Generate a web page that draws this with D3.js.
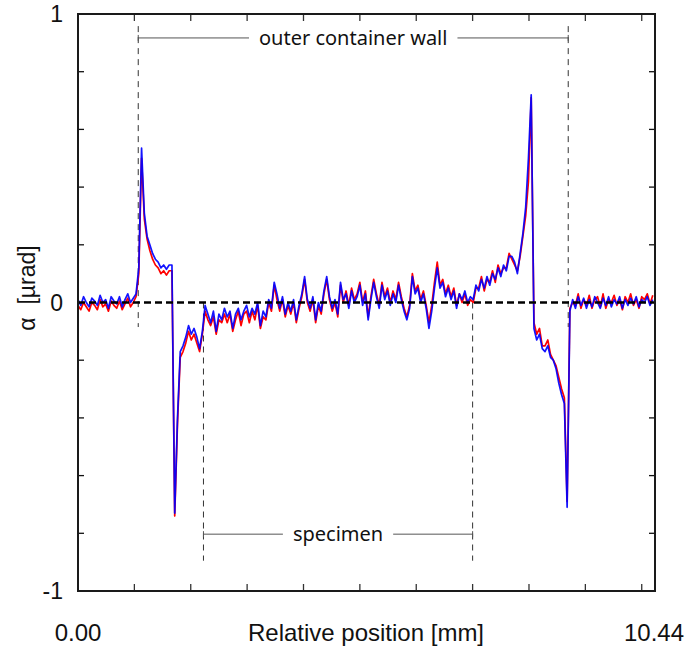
<!DOCTYPE html>
<html>
<head>
<meta charset="utf-8">
<script src="https://cdn.jsdelivr.net/npm/d3@7"></script>
<style>
  body { margin: 0; background: #fff; }
  svg { display: block; }
</style>
</head>
<body>
<div id="chart"></div>
<script>
// samples every 0.05 mm, angle in µrad
var step = 0.05;
var redSeries = [
  -0.01,-0.025,0.0,-0.015,-0.03,0.0,-0.01,-0.025,0.01,-0.015,
  -0.005,-0.03,0.005,-0.01,-0.02,0.005,-0.025,-0.005,0.015,-0.015,
  0.0,0.02,0.10,0.50,0.29,0.22,0.18,0.15,0.13,0.12,
  0.10,0.11,0.095,0.11,0.11,-0.74,-0.42,-0.19,-0.17,-0.14,
  -0.10,-0.13,-0.11,-0.14,-0.17,-0.11,-0.03,-0.06,-0.08,-0.05,
  -0.11,-0.06,-0.07,-0.04,-0.07,-0.04,-0.10,-0.06,-0.03,-0.08,
  -0.04,-0.03,-0.07,-0.03,-0.06,-0.01,-0.09,-0.05,-0.06,0.0,
  -0.03,0.06,0.01,-0.03,0.01,-0.05,-0.01,-0.04,0.0,-0.07,
  -0.02,0.02,0.08,0.0,-0.03,0.01,-0.07,-0.01,-0.04,0.03,
  0.08,0.01,-0.03,0.0,-0.05,0.06,0.0,0.04,-0.01,0.05,
  0.01,0.03,0.07,0.0,0.04,-0.05,0.02,0.08,0.03,-0.01,
  0.07,0.02,0.05,0.0,0.04,0.01,0.07,0.02,-0.02,-0.05,
  -0.01,0.10,0.04,0.06,0.01,0.04,-0.01,-0.07,-0.01,0.07,
  0.14,0.06,0.08,0.03,0.06,0.02,0.05,-0.01,0.03,0.0,
  0.03,-0.01,0.01,0.0,0.05,0.05,0.09,0.04,0.08,0.07,
  0.11,0.07,0.13,0.10,0.12,0.12,0.17,0.15,0.13,0.11,
  0.16,0.23,0.30,0.42,0.71,-0.07,-0.11,-0.09,-0.15,-0.15,
  -0.13,-0.18,-0.20,-0.22,-0.26,-0.30,-0.33,-0.69,-0.02,0.0,
  -0.01,0.03,-0.02,0.01,-0.01,0.025,-0.02,0.01,0.02,-0.015,
  0.03,-0.02,0.01,0.0,0.025,-0.01,0.01,-0.025,0.02,0.0,
  0.03,-0.01,0.01,-0.02,0.02,0.01,0.03,-0.005,0.025
];
var blueSeries = [
  0.01,-0.01,0.02,0.0,-0.015,0.015,0.005,-0.01,0.025,0.0,
  0.01,-0.02,0.02,0.005,-0.005,0.02,-0.015,0.01,0.03,0.0,
  0.015,0.03,0.12,0.535,0.31,0.23,0.20,0.17,0.15,0.14,
  0.12,0.13,0.115,0.13,0.13,-0.73,-0.40,-0.17,-0.15,-0.12,
  -0.08,-0.11,-0.09,-0.12,-0.16,-0.10,-0.01,-0.04,-0.07,-0.03,
  -0.10,-0.04,-0.06,-0.02,-0.05,-0.03,-0.09,-0.04,-0.02,-0.06,
  -0.03,-0.01,-0.05,-0.02,-0.04,0.0,-0.08,-0.03,-0.05,0.01,
  -0.02,0.07,0.03,-0.02,0.02,-0.04,0.0,-0.03,0.01,-0.06,
  -0.01,0.03,0.09,0.01,-0.02,0.02,-0.06,0.0,-0.03,0.04,
  0.09,0.02,-0.02,0.01,-0.04,0.07,0.01,0.03,-0.02,0.04,
  0.0,0.02,0.06,-0.01,0.03,-0.06,0.01,0.07,0.02,-0.02,
  0.06,0.01,0.04,-0.01,0.03,0.0,0.06,0.01,-0.03,-0.06,
  -0.02,0.09,0.03,0.05,0.0,0.03,-0.02,-0.09,-0.03,0.05,
  0.12,0.05,0.07,0.02,0.05,0.01,0.04,-0.02,0.03,0.01,
  0.04,0.0,0.02,0.01,0.06,0.04,0.08,0.05,0.09,0.06,
  0.10,0.08,0.12,0.09,0.13,0.11,0.16,0.16,0.14,0.10,
  0.17,0.24,0.33,0.50,0.72,-0.09,-0.13,-0.11,-0.16,-0.17,
  -0.15,-0.19,-0.20,-0.23,-0.28,-0.32,-0.35,-0.71,-0.03,0.01,
  -0.02,0.02,-0.01,0.015,-0.02,0.01,-0.015,0.02,0.0,-0.02,
  0.015,-0.01,0.02,-0.015,0.01,-0.005,0.02,-0.02,0.01,-0.01,
  0.015,-0.005,0.02,-0.015,0.01,0.0,0.02,-0.01,0.01
];
var xTicks = [1.02, 2.04, 3.06, 4.08, 5.10, 6.12, 7.14, 8.16, 9.18, 10.20];
var yTicks = [-0.8, -0.6, -0.4, -0.2, 0.2, 0.4, 0.6, 0.8];
var yLabels = [1, 0, -1];
var xEnds = [0, 10.44];
var xEndLabels = ["0.00", "10.44"];
var wallPos = [1.09, 8.87];
var specimenPos = [2.27, 7.14];

var W = 686, H = 647;
var margin = {left: 78, top: 14, right: 31, bottom: 56};
var width = W - margin.left - margin.right, height = H - margin.top - margin.bottom;

var svg = d3.select("#chart").append("svg")
  .attr("width", W).attr("height", H);
var g = svg.append("g").attr("transform", "translate(" + margin.left + "," + margin.top + ")");

var x = d3.scaleLinear().domain([0, 10.44]).range([0, width]);
var y = d3.scaleLinear().domain([-1, 1]).range([height, 0]);

var tickFont = "'Liberation Sans', Arial, sans-serif";
var noteFont = "'Noto Sans', 'Open Sans', sans-serif";

// annotation lines (under the data)
function dashed(x0, v0, x1, v1){
  g.append("line")
    .attr("x1", x(x0)).attr("y1", y(v0)).attr("x2", x(x1)).attr("y2", y(v1))
    .attr("stroke", "#333").attr("stroke-width", 1).attr("stroke-dasharray", "6,5");
}
wallPos.forEach(function(p){ dashed(p, 0.958, p, -0.085); });
specimenPos.forEach(function(p){ dashed(p, 0.0, p, -0.895); });

function bracket(pos, v, label){
  var cx = (x(pos[0]) + x(pos[1])) / 2, cy = y(v);
  var t = g.append("text")
    .attr("x", cx).attr("y", cy).attr("dy", "0.33em")
    .attr("text-anchor", "middle")
    .style("font-family", noteFont).style("font-size", "20px").style("fill", "#111")
    .text(label);
  var tw = t.node().getComputedTextLength();
  var segs = [[x(pos[0]), cx - tw / 2 - 10], [cx + tw / 2 + 10, x(pos[1])]];
  segs.forEach(function(s){
    g.append("line").attr("x1", s[0]).attr("x2", s[1]).attr("y1", cy).attr("y2", cy)
      .attr("stroke", "#555").attr("stroke-width", 1);
  });
  pos.forEach(function(p){
    g.append("line").attr("x1", x(p)).attr("x2", x(p)).attr("y1", cy - 3).attr("y2", cy + 3)
      .attr("stroke", "#555").attr("stroke-width", 1);
  });
}
bracket(wallPos, 0.917, "outer container wall");
bracket(specimenPos, -0.803, "specimen");

// signals
var line = d3.line()
  .x(function(d, i){ return x(i * step); })
  .y(function(d){ return y(d); });

g.append("path").datum(redSeries)
  .attr("d", line).attr("fill", "none")
  .attr("stroke", "#ff0000").attr("stroke-width", 1.7).attr("stroke-linejoin", "round");
g.append("path").datum(blueSeries)
  .attr("d", line).attr("fill", "none")
  .attr("stroke", "#0000ff").attr("stroke-width", 1.7).attr("stroke-linejoin", "round")
  .attr("opacity", 0.92);

// zero line
g.append("line")
  .attr("x1", 0).attr("x2", width).attr("y1", y(0)).attr("y2", y(0))
  .attr("stroke", "#000").attr("stroke-width", 2.5).attr("stroke-dasharray", "7,4");

// ticks, inward on all four sides
g.selectAll(".xt-b").data(xTicks).enter().append("line")
  .attr("x1", function(d){ return x(d); }).attr("x2", function(d){ return x(d); })
  .attr("y1", height).attr("y2", height - 7)
  .attr("stroke", "#333").attr("stroke-width", 1.3);
g.selectAll(".xt-t").data(xTicks).enter().append("line")
  .attr("x1", function(d){ return x(d); }).attr("x2", function(d){ return x(d); })
  .attr("y1", 0).attr("y2", 7)
  .attr("stroke", "#333").attr("stroke-width", 1.3);
g.selectAll(".yt-l").data(yTicks).enter().append("line")
  .attr("x1", 0).attr("x2", 6)
  .attr("y1", function(d){ return y(d); }).attr("y2", function(d){ return y(d); })
  .attr("stroke", "#111").attr("stroke-width", 1.3);
g.selectAll(".yt-r").data(yTicks).enter().append("line")
  .attr("x1", width).attr("x2", width - 6)
  .attr("y1", function(d){ return y(d); }).attr("y2", function(d){ return y(d); })
  .attr("stroke", "#111").attr("stroke-width", 1.3);

// frame
g.append("rect")
  .attr("x", 0).attr("y", 0).attr("width", width).attr("height", height)
  .attr("fill", "none").attr("stroke", "#1a1a1a").attr("stroke-width", 2);

// labels
g.selectAll(".yl").data(yLabels).enter().append("text")
  .attr("x", -15).attr("y", function(d){ return y(d); }).attr("dy", "0.36em")
  .attr("text-anchor", "end")
  .style("font-family", tickFont).style("font-size", "23px").style("fill", "#111")
  .text(function(d){ return d; });

g.selectAll(".xl").data(xEnds).enter().append("text")
  .attr("x", function(d, i){ return i == 1 ? W - margin.left - 2 : x(d); })
  .attr("y", 627)
  .attr("text-anchor", function(d, i){ return i == 1 ? "end" : "middle"; })
  .style("font-family", tickFont).style("font-size", "24px").style("fill", "#111")
  .text(function(d, i){ return xEndLabels[i]; });

g.append("text")
  .attr("x", 366 - margin.left).attr("y", 627)
  .attr("text-anchor", "middle")
  .style("font-family", tickFont).style("font-size", "24px").style("fill", "#111")
  .text("Relative position [mm]");

svg.append("text")
  .attr("transform", "translate(35," + 288 + ") rotate(-90)")
  .attr("text-anchor", "middle")
  .style("font-family", tickFont).style("font-size", "23px").style("fill", "#111")
  .attr("xml:space", "preserve")
  .text("α  [µrad]");
</script>
</body>
</html>
